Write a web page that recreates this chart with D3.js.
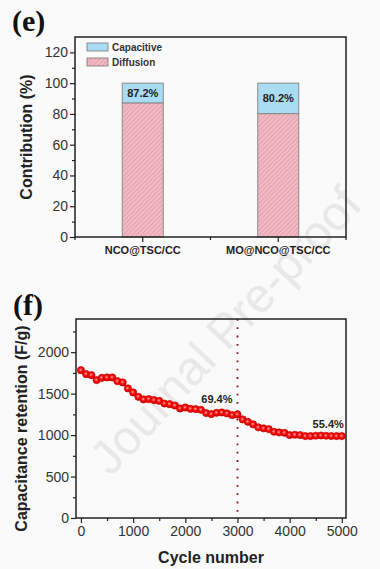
<!DOCTYPE html>
<html><head><meta charset="utf-8">
<script src="https://cdn.jsdelivr.net/npm/d3@7"></script>
<style>
html,body{margin:0;padding:0;background:#fafafa;}
svg{display:block;font-family:"Liberation Sans",Arial,sans-serif;}
</style></head>
<body>
<svg id="chart" width="380" height="569"></svg>
<script>
// ---------- data: panel (e) ----------
const samples = ["NCO@TSC/CC", "MO@NCO@TSC/CC"];
const diffusion = [87.2, 80.2];
const capacitive = [12.8, 19.8];
const barLabels = ["87.2%", "80.2%"];
const eTicks = [0, 20, 40, 60, 80, 100, 120];
const legendNames = ["Capacitive", "Diffusion"];

// ---------- data: panel (f) ----------
const cycles = [0,100,200,300,400,500,600,700,800,900,1000,1100,1200,1300,1400,1500,1600,1700,1800,1900,2000,2100,2200,2300,2400,2500,2600,2700,2800,2900,3000,3100,3200,3300,3400,3500,3600,3700,3800,3900,4000,4100,4200,4300,4400,4500,4600,4700,4800,4900,5000];
const capacitance = [1783,1735,1723,1663,1690,1695,1695,1650,1635,1563,1514,1462,1430,1434,1422,1413,1381,1373,1357,1321,1333,1317,1313,1305,1265,1253,1269,1273,1261,1241,1249,1189,1160,1129,1093,1081,1072,1040,1032,1028,1000,1004,1000,988,988,992,995,992,988,988,988];
const fYTicks = [0, 500, 1000, 1500, 2000];
const fXTicks = [0, 1000, 2000, 3000, 4000, 5000];
const markCycle = 3000;
const retentionLabels = [{c: 3000, v: 1249, t: "69.4%"}, {c: 5000, v: 988, t: "55.4%"}];

const svg = d3.select("#chart");
const ink = "#222";

// defs
const defs = svg.append("defs");
const pat = defs.append("pattern").attr("id","hatch").attr("patternUnits","userSpaceOnUse")
  .attr("width",3.2).attr("height",3.2).attr("patternTransform","rotate(45)");
pat.append("rect").attr("width",3.2).attr("height",3.2).attr("fill","#f3b9c3");
pat.append("line").attr("x1",0).attr("y1",0).attr("x2",0).attr("y2",3.2)
  .attr("stroke","#c98a96").attr("stroke-width",0.9);
const grad = defs.append("radialGradient").attr("id","ball").attr("cx","45%").attr("cy","45%").attr("r","55%");
grad.append("stop").attr("offset","0%").attr("stop-color","#ffb0b0");
grad.append("stop").attr("offset","45%").attr("stop-color","#ff1010");
grad.append("stop").attr("offset","100%").attr("stop-color","#c80000");

// watermark
svg.append("text").attr("transform","translate(228,333) rotate(-47)")
  .attr("text-anchor","middle").attr("dominant-baseline","middle")
  .attr("font-size",48).attr("fill","#e8e8e8").text("Journal Pre-proof");

// ================= panel (e) =================
const eL = 75, eR = 346, eT = 37, eB = 237;
const ex = d3.scaleBand().domain(samples).range([eL, eR]).paddingInner(0).paddingOuter(0);
const ey = d3.scaleLinear().domain([0, 130]).range([eB, eT]);
const bw = 41;
const ge = svg.append("g");

ge.append("text").attr("x",12).attr("y",31).attr("font-family","'Liberation Serif',serif")
  .attr("font-weight","bold").attr("font-size",30).attr("fill","#111").text("(e)");

samples.forEach((s,i)=>{
  const cx = ex(s) + ex.bandwidth()/2;
  ge.append("rect").attr("x",cx-bw/2).attr("y",ey(diffusion[i]))
    .attr("width",bw).attr("height",ey(0)-ey(diffusion[i]))
    .attr("fill","url(#hatch)").attr("stroke","#8a8a8a").attr("stroke-width",1);
  ge.append("rect").attr("x",cx-bw/2).attr("y",ey(diffusion[i]+capacitive[i]))
    .attr("width",bw).attr("height",ey(diffusion[i])-ey(diffusion[i]+capacitive[i]))
    .attr("fill","#a9dbf3").attr("stroke","#8a8a8a").attr("stroke-width",1);
  ge.append("text").attr("x",cx).attr("y",(ey(diffusion[i])+ey(diffusion[i]+capacitive[i]))/2+4)
    .attr("text-anchor","middle").attr("font-weight","bold").attr("font-size",11).attr("fill",ink)
    .text(barLabels[i]);
});

// axes (e)
const eyAxis = d3.axisLeft(ey).tickValues(eTicks).tickSize(5).tickPadding(2);
const gey = ge.append("g").attr("transform",`translate(${eL},0)`).call(eyAxis);
gey.selectAll("text").attr("font-size",14).attr("fill","#333");
gey.select(".domain").remove();
gey.selectAll(".tick line").attr("stroke",ink).attr("stroke-width",1.2);
const eMinor = d3.range(10,130,20);
ge.append("g").attr("transform",`translate(${eL},0)`).call(d3.axisLeft(ey).tickValues(eMinor).tickSize(3).tickFormat(""))
  .call(g=>{g.select(".domain").remove(); g.selectAll("line").attr("stroke",ink).attr("stroke-width",1.2);});

const exAxis = d3.axisBottom(ex).tickSize(5).tickPadding(4);
const gex = ge.append("g").attr("transform",`translate(0,${eB})`).call(exAxis);
gex.select(".domain").remove();
gex.selectAll(".tick line").attr("stroke",ink).attr("stroke-width",1.2);
gex.selectAll("text").attr("font-size",11).attr("font-weight","bold").attr("fill",ink);
// minor ticks on band edges
const edgeTicks = [eL, (eL+eR)/2, eR];
ge.selectAll(".eminor").data(edgeTicks).join("line").attr("x1",d=>d).attr("x2",d=>d)
  .attr("y1",eB).attr("y2",eB+3).attr("stroke",ink).attr("stroke-width",1.2);

ge.append("rect").attr("x",eL).attr("y",eT).attr("width",eR-eL).attr("height",eB-eT)
  .attr("fill","none").attr("stroke",ink).attr("stroke-width",1.5);

ge.append("text").attr("transform",`translate(32,${(eT+eB)/2}) rotate(-90)`)
  .attr("text-anchor","middle").attr("font-weight","bold").attr("font-size",16).attr("fill",ink)
  .text("Contribution (%)");

// legend
const legFills = ["#a9dbf3","url(#hatch)"];
legendNames.forEach((n,i)=>{
  const y = 43 + i*15;
  ge.append("rect").attr("x",87).attr("y",y).attr("width",21).attr("height",8)
    .attr("fill",legFills[i]).attr("stroke","#777").attr("stroke-width",0.8);
  ge.append("text").attr("x",112).attr("y",y+7.5).attr("font-size",10).attr("font-weight","bold")
    .attr("fill","#333").text(n);
});

// ================= panel (f) =================
const fL = 76, fR = 346, fT = 319, fB = 518;
const fx = d3.scaleLinear().domain([-95, 5080]).range([fL, fR]);
const fy = d3.scaleLinear().domain([0, 2400]).range([fB, fT]);
const gf = svg.append("g");

gf.append("text").attr("x",13).attr("y",315).attr("font-family","'Liberation Serif',serif")
  .attr("font-weight","bold").attr("font-size",30).attr("fill","#111").text("(f)");

// dotted line
gf.append("line").attr("x1",fx(markCycle)).attr("x2",fx(markCycle)).attr("y1",fT).attr("y2",fB)
  .attr("stroke","#8b1414").attr("stroke-width",1.8).attr("stroke-dasharray","1.8,6.5");

// line + points
gf.append("path").datum(cycles.map((c,i)=>[c,capacitance[i]]))
  .attr("d",d3.line().x(d=>fx(d[0])).y(d=>fy(d[1]))).attr("fill","none")
  .attr("stroke","#e00000").attr("stroke-width",1);
gf.selectAll(".pt").data(cycles.map((c,i)=>[c,capacitance[i]])).join("circle")
  .attr("cx",d=>fx(d[0])).attr("cy",d=>fy(d[1])).attr("r",3.6)
  .attr("fill","url(#ball)").attr("stroke","#d00000").attr("stroke-width",0.7);

// labels
gf.append("text").attr("x",fx(retentionLabels[0].c)-5).attr("y",fy(retentionLabels[0].v)-11)
  .attr("text-anchor","end").attr("font-weight","bold").attr("font-size",11).attr("fill",ink)
  .text(retentionLabels[0].t);
gf.append("text").attr("x",fx(retentionLabels[1].c)+2).attr("y",fy(retentionLabels[1].v)-8)
  .attr("text-anchor","end").attr("font-weight","bold").attr("font-size",11).attr("fill",ink)
  .text(retentionLabels[1].t);

// axes (f)
const gfy = gf.append("g").attr("transform",`translate(${fL},0)`)
  .call(d3.axisLeft(fy).tickValues(fYTicks).tickSize(5).tickPadding(2).tickFormat(d3.format("d")));
gfy.select(".domain").remove();
gfy.selectAll(".tick line").attr("stroke",ink).attr("stroke-width",1.2);
gfy.selectAll("text").attr("font-size",14).attr("fill","#333");
gf.append("g").attr("transform",`translate(${fL},0)`)
  .call(d3.axisLeft(fy).tickValues(d3.range(250,2400,500)).tickSize(3).tickFormat(""))
  .call(g=>{g.select(".domain").remove(); g.selectAll("line").attr("stroke",ink).attr("stroke-width",1.2);});

const gfx = gf.append("g").attr("transform",`translate(0,${fB})`)
  .call(d3.axisBottom(fx).tickValues(fXTicks).tickSize(5).tickPadding(3).tickFormat(d3.format("d")));
gfx.select(".domain").remove();
gfx.selectAll(".tick line").attr("stroke",ink).attr("stroke-width",1.2);
gfx.selectAll("text").attr("font-size",14).attr("fill","#333");
gf.append("g").attr("transform",`translate(0,${fB})`)
  .call(d3.axisBottom(fx).tickValues(d3.range(500,5000,1000)).tickSize(3).tickFormat(""))
  .call(g=>{g.select(".domain").remove(); g.selectAll("line").attr("stroke",ink).attr("stroke-width",1.2);});

gf.append("rect").attr("x",fL).attr("y",fT).attr("width",fR-fL).attr("height",fB-fT)
  .attr("fill","none").attr("stroke",ink).attr("stroke-width",1.5);

gf.append("text").attr("transform",`translate(27,${(fT+fB)/2+10}) rotate(-90)`)
  .attr("text-anchor","middle").attr("font-weight","bold").attr("font-size",16).attr("fill",ink)
  .text("Capacitance retention (F/g)");
gf.append("text").attr("x",(fL+fR)/2).attr("y",563).attr("text-anchor","middle")
  .attr("font-weight","bold").attr("font-size",16).attr("fill",ink).text("Cycle number");
</script>
</body></html>
